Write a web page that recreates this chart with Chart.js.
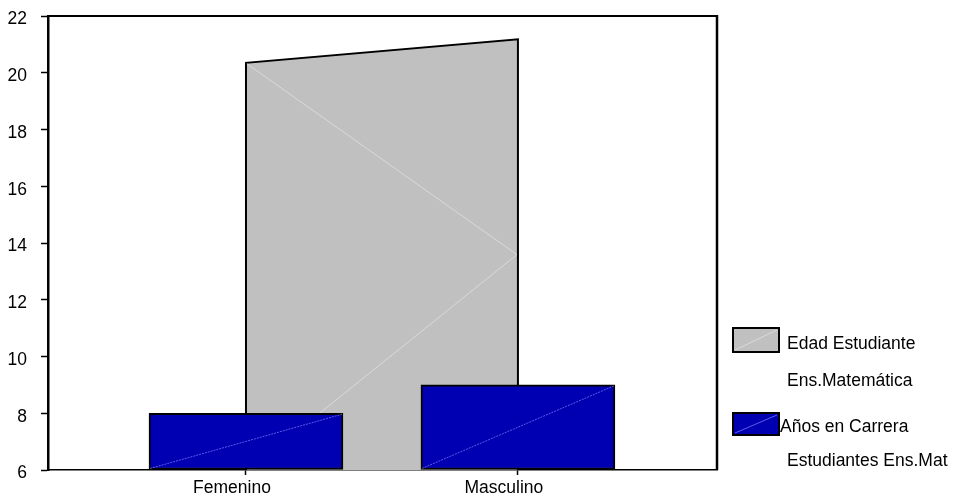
<!DOCTYPE html>
<html>
<head>
<meta charset="utf-8">
<script src="https://cdn.jsdelivr.net/npm/chart.js@4/dist/chart.umd.min.js"></script>
<style>
  html, body { margin: 0; padding: 0; background: #fff; }
  #wrap { width: 953px; height: 498px; }
</style>
</head>
<body>
<div id="wrap"><canvas id="c" width="953" height="498"></canvas></div>
<script>
// Categories and series
const categories = ['Femenino', 'Masculino'];
const edadEstudiante = [20.35, 21.18];   // Edad Estudiante Ens.Matemática (area)
const aniosCarrera = [8, 9];             // Años en Carrera Estudiantes Ens.Mat (bars)
const yTicks = [6, 8, 10, 12, 14, 16, 18, 20, 22];
const legendLines = [
  ['Edad Estudiante', 'Ens.Matemática'],
  ['Años en Carrera', 'Estudiantes Ens.Mat']
];

const FONT = '"Liberation Sans", Arial, sans-serif';
const FONT_SIZE = 17.5;
const GRAY = '#c0c0c0';
const BLUE = '#0000b2';
const yMin = yTicks[0];
const yMax = yTicks[yTicks.length - 1];

// Area outline: drop from the baseline, across the tops, back to the baseline
const areaPoints = [
  { x: 0, y: yMin },
  ...edadEstudiante.map((v, i) => ({ x: i, y: v })),
  { x: edadEstudiante.length - 1, y: yMin }
];
const barPoints = aniosCarrera.map((v, i) => ({ x: i, y: v }));

// Frame (top/right) plus the faint fill seams and the legend
const decorations = {
  id: 'decorations',
  afterDatasetDraw(chart, args) {
    const ctx = chart.ctx;
    const xs = chart.scales.x, ys = chart.scales.y;
    ctx.save();
    if (args.index === 1) {
      // seams across the area fill
      const x0 = xs.getPixelForValue(0), x1 = xs.getPixelForValue(1);
      const yTop0 = ys.getPixelForValue(edadEstudiante[0]);
      const yMid = ys.getPixelForValue((edadEstudiante[1] + yMin) / 2);
      const yBot = ys.getPixelForValue(yMin);
      ctx.strokeStyle = '#dadada';
      ctx.lineWidth = 1;
      ctx.beginPath();
      ctx.moveTo(x0 + 1, yTop0 + 1);
      ctx.lineTo(x1 - 1, yMid);
      ctx.lineTo(x0 + 3, yBot);
      ctx.stroke();
    } else if (args.index === 0) {
      const meta = chart.getDatasetMeta(0);
      ctx.strokeStyle = 'rgba(130,130,255,0.7)';
      ctx.lineWidth = 1;
      ctx.setLineDash([2, 1]);
      meta.data.forEach(bar => {
        const half = bar.width / 2;
        ctx.beginPath();
        ctx.moveTo(bar.x - half + 1, bar.base - 1);
        ctx.lineTo(bar.x + half - 1, bar.y + 1);
        ctx.stroke();
      });
    }
    ctx.restore();
  },
  afterDraw(chart) {
    const ctx = chart.ctx;
    const a = chart.chartArea;
    ctx.save();
    ctx.strokeStyle = '#000';
    ctx.lineWidth = 2;
    ctx.beginPath();
    ctx.moveTo(a.left - 1, a.top);
    ctx.lineTo(a.right, a.top);
    ctx.stroke();
    ctx.lineWidth = 2.5;
    ctx.beginPath();
    ctx.moveTo(a.right, a.top - 1);
    ctx.lineTo(a.right, a.bottom);
    ctx.stroke();

    // legend
    const items = [
      { fill: GRAY, seam: '#dadada', box: [733, 328, 46, 24], text: [[787, 344], [787, 381]] },
      { fill: BLUE, seam: 'rgba(130,130,255,0.7)', box: [733, 413, 46, 22], text: [[780, 427], [787, 461]] }
    ];
    ctx.font = FONT_SIZE + 'px ' + FONT;
    ctx.textBaseline = 'middle';
    ctx.textAlign = 'left';
    items.forEach((it, k) => {
      const [bx, by, bw, bh] = it.box;
      ctx.fillStyle = it.fill;
      ctx.fillRect(bx, by, bw, bh);
      ctx.strokeStyle = it.seam;
      ctx.lineWidth = 1;
      ctx.beginPath();
      ctx.moveTo(bx + 2, by + bh - 2);
      ctx.lineTo(bx + bw - 2, by + 2);
      ctx.stroke();
      ctx.strokeStyle = '#000';
      ctx.lineWidth = 2;
      ctx.strokeRect(bx, by, bw, bh);
      ctx.fillStyle = '#000';
      legendLines[k].forEach((t, j) => ctx.fillText(t, it.text[j][0], it.text[j][1]));
    });
    ctx.restore();
  }
};

new Chart(document.getElementById('c'), {
  type: 'bar',
  data: {
    datasets: [
      {
        type: 'bar',
        label: legendLines[1].join(' '),
        data: barPoints,
        backgroundColor: BLUE,
        borderColor: '#000',
        borderWidth: 2,
        borderSkipped: false,
        barThickness: 194,
        base: yMin,
        order: 1
      },
      {
        type: 'line',
        label: legendLines[0].join(' '),
        data: areaPoints,
        backgroundColor: GRAY,
        borderColor: '#000',
        borderWidth: 2,
        fill: 'start',
        tension: 0,
        pointRadius: 0,
        borderJoinStyle: 'miter',
        order: 2
      }
    ]
  },
  options: {
    responsive: false,
    animation: false,
    layout: { padding: { left: 0, right: 236, top: 16, bottom: 0 } },
    plugins: { legend: { display: false }, tooltip: { enabled: false } },
    scales: {
      x: {
        type: 'linear',
        offset: false,
        min: -0.728,
        max: 1.732,
        afterBuildTicks(scale) { scale.ticks = categories.map((_, i) => ({ value: i })); },
        afterFit(scale) { scale.height = 28; scale.paddingLeft = 0; scale.paddingRight = 0; },
        ticks: {
          callback: v => categories[v],
          color: '#000',
          font: { family: FONT, size: FONT_SIZE },
          padding: 3,
          labelOffset: -14,
          maxRotation: 0,
          autoSkip: false
        },
        grid: { offset: false, drawOnChartArea: false, tickLength: 5, tickColor: '#000', tickWidth: 1.5 },
        border: { color: '#000', width: 1.5 }
      },
      y: {
        type: 'linear',
        min: yMin,
        max: yMax,
        afterBuildTicks(scale) { scale.ticks = yTicks.map(v => ({ value: v })); },
        afterFit(scale) { scale.width = 48; scale.paddingTop = 0; scale.paddingBottom = 0; },
        ticks: {
          color: '#000',
          font: { family: FONT, size: FONT_SIZE },
          padding: 14,
          labelOffset: 3.5
        },
        grid: { drawOnChartArea: false, tickLength: 7, tickColor: '#000', tickWidth: 1.5 },
        border: { color: '#000', width: 2.5 }
      }
    }
  },
  plugins: [decorations]
});
</script>
</body>
</html>
